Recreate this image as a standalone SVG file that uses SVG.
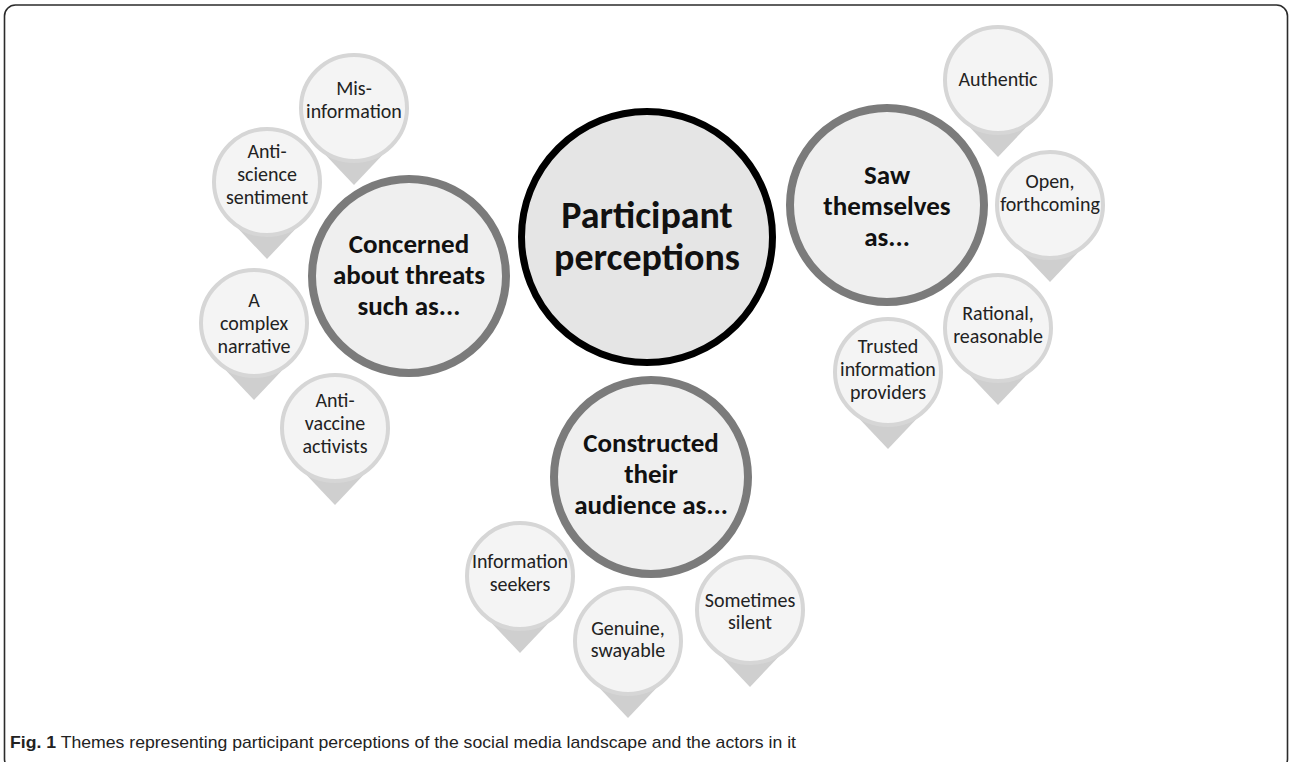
<svg xmlns="http://www.w3.org/2000/svg" xmlns:xlink="http://www.w3.org/1999/xlink" width="1292" height="762" viewBox="0 0 1292 762">
  <style>
    .frame { fill: #ffffff; stroke: #2b2b2b; stroke-width: 1.6; }
    .core { fill: #e5e5e5; stroke: #000000; stroke-width: 7; }
    .theme { fill: #efefef; stroke: #7b7b7b; stroke-width: 8; }
    .pin-tail { fill: #cfcfcf; }
    .pin-head { fill: #f4f4f4; stroke: #d6d6d6; stroke-width: 4; }
    .core-text { font-family: Carlito, Lato, "Open Sans", sans-serif; font-weight: 700; font-size: 38px; fill: #111111; text-anchor: middle; }
    .theme-text { font-family: Carlito, Lato, "Open Sans", sans-serif; font-weight: 700; font-size: 27px; fill: #111111; text-anchor: middle; }
    .pin-text { font-family: Carlito, Lato, "Open Sans", sans-serif; font-size: 20px; fill: #222222; text-anchor: middle; }
    .caption { font-family: "Liberation Sans", Arial, sans-serif; font-size: 17px; fill: #222222; }
  </style>
  <defs>
    <!-- teardrop marker: round head with a pointed tail below -->
    <g id="pin">
      <polygon class="pin-tail" points="0,0 -38.4,36.5 0,77 38.4,36.5"/>
      <circle class="pin-head" cx="0" cy="0" r="53"/>
    </g>
  </defs>

  <rect class="frame" x="4.5" y="5" width="1283" height="765" rx="11" ry="11"/>

  <!-- central theme -->
  <g id="participant-perceptions">
    <circle class="core" cx="647" cy="237" r="125.5"/>
    <text class="core-text" x="647" y="228">Participant</text>
    <text class="core-text" x="647" y="270">perceptions</text>
  </g>

  <!-- threats cluster -->
  <g id="concerned-about-threats">
    <circle class="theme" cx="409" cy="276" r="97"/>
    <text class="theme-text" x="409" y="253">Concerned</text>
    <text class="theme-text" x="409" y="284">about threats</text>
    <text class="theme-text" x="409" y="315">such as...</text>
  </g>
  <g id="pin-misinformation">
    <use xlink:href="#pin" href="#pin" x="354" y="108"/>
    <text class="pin-text" x="354" y="95">Mis-</text>
    <text class="pin-text" x="354" y="118">information</text>
  </g>
  <g id="pin-anti-science">
    <use xlink:href="#pin" href="#pin" x="267" y="182"/>
    <text class="pin-text" x="267" y="158">Anti-</text>
    <text class="pin-text" x="267" y="181">science</text>
    <text class="pin-text" x="267" y="204">sentiment</text>
  </g>
  <g id="pin-complex-narrative">
    <use xlink:href="#pin" href="#pin" x="254" y="323"/>
    <text class="pin-text" x="254" y="307">A</text>
    <text class="pin-text" x="254" y="330">complex</text>
    <text class="pin-text" x="254" y="353">narrative</text>
  </g>
  <g id="pin-anti-vaccine">
    <use xlink:href="#pin" href="#pin" x="335" y="428"/>
    <text class="pin-text" x="335" y="407">Anti-</text>
    <text class="pin-text" x="335" y="430">vaccine</text>
    <text class="pin-text" x="335" y="453">activists</text>
  </g>

  <!-- self-image cluster -->
  <g id="saw-themselves">
    <circle class="theme" cx="887" cy="205" r="97"/>
    <text class="theme-text" x="887" y="184">Saw</text>
    <text class="theme-text" x="887" y="215">themselves</text>
    <text class="theme-text" x="887" y="246">as...</text>
  </g>
  <g id="pin-authentic">
    <use xlink:href="#pin" href="#pin" x="998" y="80"/>
    <text class="pin-text" x="998" y="86">Authentic</text>
  </g>
  <g id="pin-open">
    <use xlink:href="#pin" href="#pin" x="1050" y="205"/>
    <text class="pin-text" x="1050" y="188">Open,</text>
    <text class="pin-text" x="1050" y="211">forthcoming</text>
  </g>
  <g id="pin-rational">
    <use xlink:href="#pin" href="#pin" x="998" y="328"/>
    <text class="pin-text" x="998" y="320">Rational,</text>
    <text class="pin-text" x="998" y="343">reasonable</text>
  </g>
  <g id="pin-trusted">
    <use xlink:href="#pin" href="#pin" x="888" y="372"/>
    <text class="pin-text" x="888" y="353">Trusted</text>
    <text class="pin-text" x="888" y="376">information</text>
    <text class="pin-text" x="888" y="399">providers</text>
  </g>

  <!-- audience cluster -->
  <g id="constructed-audience">
    <circle class="theme" cx="651" cy="477" r="97"/>
    <text class="theme-text" x="651" y="452">Constructed</text>
    <text class="theme-text" x="651" y="483">their</text>
    <text class="theme-text" x="651" y="514">audience as...</text>
  </g>
  <g id="pin-information-seekers">
    <use xlink:href="#pin" href="#pin" x="520" y="576"/>
    <text class="pin-text" x="520" y="568">Information</text>
    <text class="pin-text" x="520" y="591">seekers</text>
  </g>
  <g id="pin-genuine">
    <use xlink:href="#pin" href="#pin" x="628" y="641"/>
    <text class="pin-text" x="628" y="635">Genuine,</text>
    <text class="pin-text" x="628" y="657">swayable</text>
  </g>
  <g id="pin-sometimes-silent">
    <use xlink:href="#pin" href="#pin" x="750" y="610"/>
    <text class="pin-text" x="750" y="607">Sometimes</text>
    <text class="pin-text" x="750" y="629">silent</text>
  </g>

  <!-- caption -->
  <text class="caption" x="10" y="748" textLength="786" lengthAdjust="spacingAndGlyphs"><tspan font-weight="700">Fig. 1</tspan> Themes representing participant perceptions of the social media landscape and the actors in it</text>
</svg>
